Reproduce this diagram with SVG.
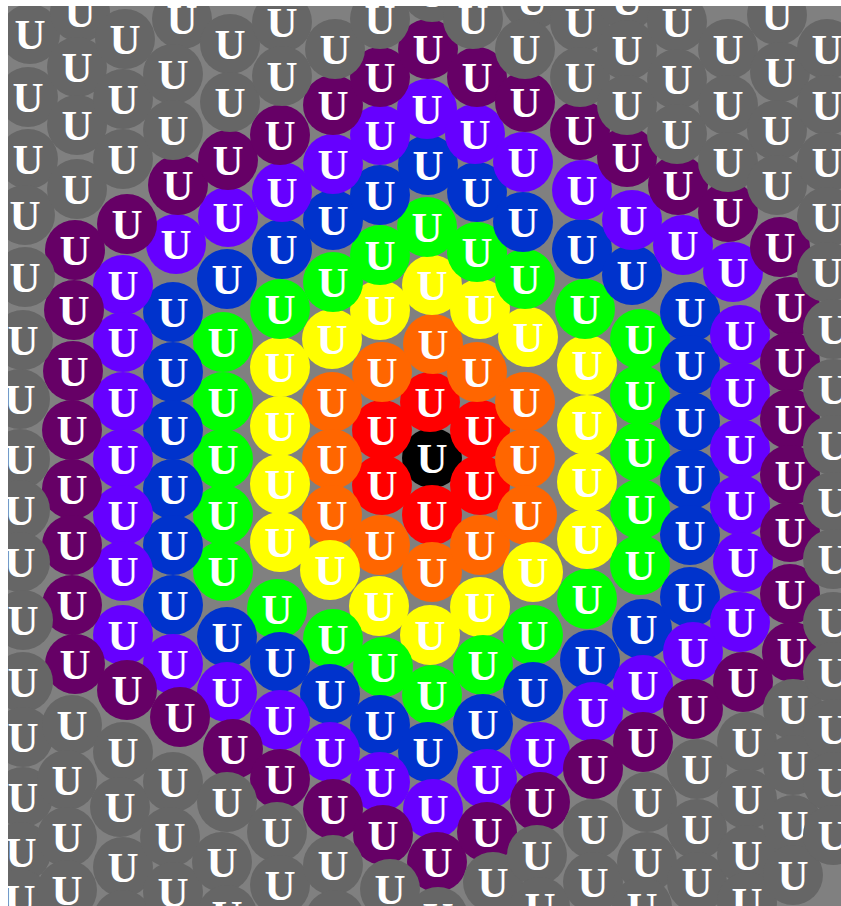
<svg xmlns="http://www.w3.org/2000/svg" width="841" height="906" viewBox="0 0 841 906">
<style>
text{font-family:"Liberation Serif","Times New Roman",serif;font-size:43px;font-weight:bold;fill:#fff;text-anchor:middle}
.k0 circle{fill:#000}.k1 circle{fill:#ff0000}.k2 circle{fill:#ff6600}.k3 circle{fill:#ffff00}
.k4 circle{fill:#00ff00}.k5 circle{fill:#0033cc}.k6 circle{fill:#6600ff}.k7 circle{fill:#660066}.kg circle{fill:#666666}
</style>
<defs><clipPath id="clip"><rect x="8" y="6" width="833" height="900"/></clipPath></defs>
<rect width="841" height="906" fill="#ffffff"/>
<g clip-path="url(#clip)">
<rect x="8" y="6" width="833" height="900" fill="#808080"/>
<g id="nodes" transform="translate(0 2)">
<g id="n0_0" class="k0" transform="translate(432 456)"><circle r="30"/><text y="15">U</text></g>
<g id="n-1_0" class="k1" transform="translate(382 428)"><circle r="30"/><text y="15">U</text></g>
<g id="n-1_1" class="k1" transform="translate(382 483)"><circle r="30"/><text y="15">U</text></g>
<g id="n0_-1" class="k1" transform="translate(430 400)"><circle r="30"/><text y="15">U</text></g>
<g id="n0_1" class="k1" transform="translate(432 513)"><circle r="30"/><text y="15">U</text></g>
<g id="n1_-1" class="k1" transform="translate(480 428)"><circle r="30"/><text y="15">U</text></g>
<g id="n1_0" class="k1" transform="translate(480 483)"><circle r="30"/><text y="15">U</text></g>
<g id="n-2_0" class="k2" transform="translate(332 400)"><circle r="30"/><text y="15">U</text></g>
<g id="n-2_1" class="k2" transform="translate(332 457)"><circle r="30"/><text y="15">U</text></g>
<g id="n-2_2" class="k2" transform="translate(332 513)"><circle r="30"/><text y="15">U</text></g>
<g id="n-1_-1" class="k2" transform="translate(382 370)"><circle r="30"/><text y="15">U</text></g>
<g id="n-1_2" class="k2" transform="translate(380 543)"><circle r="30"/><text y="15">U</text></g>
<g id="n0_-2" class="k2" transform="translate(433 342)"><circle r="30"/><text y="15">U</text></g>
<g id="n0_2" class="k2" transform="translate(432 570)"><circle r="30"/><text y="15">U</text></g>
<g id="n1_-2" class="k2" transform="translate(477 370)"><circle r="30"/><text y="15">U</text></g>
<g id="n1_1" class="k2" transform="translate(480 543)"><circle r="30"/><text y="15">U</text></g>
<g id="n2_-2" class="k2" transform="translate(525 400)"><circle r="30"/><text y="15">U</text></g>
<g id="n2_-1" class="k2" transform="translate(525 457)"><circle r="30"/><text y="15">U</text></g>
<g id="n2_0" class="k2" transform="translate(527 513)"><circle r="30"/><text y="15">U</text></g>
<g id="n-3_0" class="k3" transform="translate(280 365)"><circle r="30"/><text y="15">U</text></g>
<g id="n-3_1" class="k3" transform="translate(280 424)"><circle r="30"/><text y="15">U</text></g>
<g id="n-3_2" class="k3" transform="translate(280 482)"><circle r="30"/><text y="15">U</text></g>
<g id="n-3_3" class="k3" transform="translate(280 540)"><circle r="30"/><text y="15">U</text></g>
<g id="n-2_-1" class="k3" transform="translate(332 337)"><circle r="30"/><text y="15">U</text></g>
<g id="n-2_3" class="k3" transform="translate(330 568)"><circle r="30"/><text y="15">U</text></g>
<g id="n-1_-2" class="k3" transform="translate(380 308)"><circle r="30"/><text y="15">U</text></g>
<g id="n-1_3" class="k3" transform="translate(379 604)"><circle r="30"/><text y="15">U</text></g>
<g id="n0_-3" class="k3" transform="translate(432 283)"><circle r="30"/><text y="15">U</text></g>
<g id="n0_3" class="k3" transform="translate(430 633)"><circle r="30"/><text y="15">U</text></g>
<g id="n1_-3" class="k3" transform="translate(480 307)"><circle r="30"/><text y="15">U</text></g>
<g id="n1_2" class="k3" transform="translate(480 605)"><circle r="30"/><text y="15">U</text></g>
<g id="n2_-3" class="k3" transform="translate(528 335)"><circle r="30"/><text y="15">U</text></g>
<g id="n2_1" class="k3" transform="translate(533 570)"><circle r="30"/><text y="15">U</text></g>
<g id="n3_-3" class="k3" transform="translate(587 363)"><circle r="30"/><text y="15">U</text></g>
<g id="n3_-2" class="k3" transform="translate(587 423)"><circle r="30"/><text y="15">U</text></g>
<g id="n3_-1" class="k3" transform="translate(587 480)"><circle r="30"/><text y="15">U</text></g>
<g id="n3_0" class="k3" transform="translate(587 537)"><circle r="30"/><text y="15">U</text></g>
<g id="n-4_0" class="k4" transform="translate(223 340)"><circle r="30"/><text y="15">U</text></g>
<g id="n-4_1" class="k4" transform="translate(223 400)"><circle r="30"/><text y="15">U</text></g>
<g id="n-4_2" class="k4" transform="translate(223 457)"><circle r="30"/><text y="15">U</text></g>
<g id="n-4_3" class="k4" transform="translate(223 513)"><circle r="30"/><text y="15">U</text></g>
<g id="n-4_4" class="k4" transform="translate(223 569)"><circle r="30"/><text y="15">U</text></g>
<g id="n-3_-1" class="k4" transform="translate(280 307)"><circle r="30"/><text y="15">U</text></g>
<g id="n-3_4" class="k4" transform="translate(277 607)"><circle r="30"/><text y="15">U</text></g>
<g id="n-2_-2" class="k4" transform="translate(333 280)"><circle r="30"/><text y="15">U</text></g>
<g id="n-2_4" class="k4" transform="translate(333 637)"><circle r="30"/><text y="15">U</text></g>
<g id="n-1_-3" class="k4" transform="translate(380 253)"><circle r="30"/><text y="15">U</text></g>
<g id="n-1_4" class="k4" transform="translate(383 665)"><circle r="30"/><text y="15">U</text></g>
<g id="n0_-4" class="k4" transform="translate(427 225)"><circle r="30"/><text y="15">U</text></g>
<g id="n0_4" class="k4" transform="translate(432 693)"><circle r="30"/><text y="15">U</text></g>
<g id="n1_-4" class="k4" transform="translate(477 250)"><circle r="30"/><text y="15">U</text></g>
<g id="n1_3" class="k4" transform="translate(483 663)"><circle r="30"/><text y="15">U</text></g>
<g id="n2_-4" class="k4" transform="translate(525 277)"><circle r="30"/><text y="15">U</text></g>
<g id="n2_2" class="k4" transform="translate(533 633)"><circle r="30"/><text y="15">U</text></g>
<g id="n3_-4" class="k4" transform="translate(585 307)"><circle r="30"/><text y="15">U</text></g>
<g id="n3_1" class="k4" transform="translate(587 597)"><circle r="30"/><text y="15">U</text></g>
<g id="n4_-4" class="k4" transform="translate(640 337)"><circle r="30"/><text y="15">U</text></g>
<g id="n4_-3" class="k4" transform="translate(640 393)"><circle r="30"/><text y="15">U</text></g>
<g id="n4_-2" class="k4" transform="translate(640 450)"><circle r="30"/><text y="15">U</text></g>
<g id="n4_-1" class="k4" transform="translate(640 507)"><circle r="30"/><text y="15">U</text></g>
<g id="n4_0" class="k4" transform="translate(640 563)"><circle r="30"/><text y="15">U</text></g>
<g id="n-5_0" class="k5" transform="translate(173 310)"><circle r="30"/><text y="15">U</text></g>
<g id="n-5_1" class="k5" transform="translate(173 370)"><circle r="30"/><text y="15">U</text></g>
<g id="n-5_2" class="k5" transform="translate(173 428)"><circle r="30"/><text y="15">U</text></g>
<g id="n-5_3" class="k5" transform="translate(173 487)"><circle r="30"/><text y="15">U</text></g>
<g id="n-5_4" class="k5" transform="translate(173 543)"><circle r="30"/><text y="15">U</text></g>
<g id="n-5_5" class="k5" transform="translate(173 603)"><circle r="30"/><text y="15">U</text></g>
<g id="n-4_-1" class="k5" transform="translate(227 277)"><circle r="30"/><text y="15">U</text></g>
<g id="n-4_5" class="k5" transform="translate(227 635)"><circle r="30"/><text y="15">U</text></g>
<g id="n-3_-2" class="k5" transform="translate(282 247)"><circle r="30"/><text y="15">U</text></g>
<g id="n-3_5" class="k5" transform="translate(280 660)"><circle r="30"/><text y="15">U</text></g>
<g id="n-2_-3" class="k5" transform="translate(333 218)"><circle r="30"/><text y="15">U</text></g>
<g id="n-2_5" class="k5" transform="translate(330 692)"><circle r="30"/><text y="15">U</text></g>
<g id="n-1_-4" class="k5" transform="translate(380 193)"><circle r="30"/><text y="15">U</text></g>
<g id="n-1_5" class="k5" transform="translate(380 723)"><circle r="30"/><text y="15">U</text></g>
<g id="n0_-5" class="k5" transform="translate(428 163)"><circle r="30"/><text y="15">U</text></g>
<g id="n0_5" class="k5" transform="translate(428 750)"><circle r="30"/><text y="15">U</text></g>
<g id="n1_-5" class="k5" transform="translate(477 190)"><circle r="30"/><text y="15">U</text></g>
<g id="n1_4" class="k5" transform="translate(483 722)"><circle r="30"/><text y="15">U</text></g>
<g id="n2_-5" class="k5" transform="translate(523 220)"><circle r="30"/><text y="15">U</text></g>
<g id="n2_3" class="k5" transform="translate(533 690)"><circle r="30"/><text y="15">U</text></g>
<g id="n3_-5" class="k5" transform="translate(582 247)"><circle r="30"/><text y="15">U</text></g>
<g id="n3_2" class="k5" transform="translate(590 658)"><circle r="30"/><text y="15">U</text></g>
<g id="n4_-5" class="k5" transform="translate(632 273)"><circle r="30"/><text y="15">U</text></g>
<g id="n4_1" class="k5" transform="translate(642 627)"><circle r="30"/><text y="15">U</text></g>
<g id="n5_-5" class="k5" transform="translate(690 310)"><circle r="30"/><text y="15">U</text></g>
<g id="n5_-4" class="k5" transform="translate(690 363)"><circle r="30"/><text y="15">U</text></g>
<g id="n5_-3" class="k5" transform="translate(690 420)"><circle r="30"/><text y="15">U</text></g>
<g id="n5_-2" class="k5" transform="translate(690 477)"><circle r="30"/><text y="15">U</text></g>
<g id="n5_-1" class="k5" transform="translate(690 533)"><circle r="30"/><text y="15">U</text></g>
<g id="n5_0" class="k5" transform="translate(690 595)"><circle r="30"/><text y="15">U</text></g>
<g id="n-6_0" class="k6" transform="translate(123 283)"><circle r="30"/><text y="15">U</text></g>
<g id="n-6_1" class="k6" transform="translate(123 340)"><circle r="30"/><text y="15">U</text></g>
<g id="n-6_2" class="k6" transform="translate(123 400)"><circle r="30"/><text y="15">U</text></g>
<g id="n-6_3" class="k6" transform="translate(123 457)"><circle r="30"/><text y="15">U</text></g>
<g id="n-6_4" class="k6" transform="translate(123 513)"><circle r="30"/><text y="15">U</text></g>
<g id="n-6_5" class="k6" transform="translate(123 569)"><circle r="30"/><text y="15">U</text></g>
<g id="n-6_6" class="k6" transform="translate(123 633)"><circle r="30"/><text y="15">U</text></g>
<g id="n-5_-1" class="k6" transform="translate(176 242)"><circle r="30"/><text y="15">U</text></g>
<g id="n-5_6" class="k6" transform="translate(173 662)"><circle r="30"/><text y="15">U</text></g>
<g id="n-4_-2" class="k6" transform="translate(228 215)"><circle r="30"/><text y="15">U</text></g>
<g id="n-4_6" class="k6" transform="translate(227 690)"><circle r="30"/><text y="15">U</text></g>
<g id="n-3_-3" class="k6" transform="translate(282 190)"><circle r="30"/><text y="15">U</text></g>
<g id="n-3_6" class="k6" transform="translate(280 718)"><circle r="30"/><text y="15">U</text></g>
<g id="n-2_-4" class="k6" transform="translate(333 162)"><circle r="30"/><text y="15">U</text></g>
<g id="n-2_6" class="k6" transform="translate(330 750)"><circle r="30"/><text y="15">U</text></g>
<g id="n-1_-5" class="k6" transform="translate(380 133)"><circle r="30"/><text y="15">U</text></g>
<g id="n-1_6" class="k6" transform="translate(380 780)"><circle r="30"/><text y="15">U</text></g>
<g id="n0_-6" class="k6" transform="translate(427 107)"><circle r="30"/><text y="15">U</text></g>
<g id="n0_6" class="k6" transform="translate(433 807)"><circle r="30"/><text y="15">U</text></g>
<g id="n1_-6" class="k6" transform="translate(475 132)"><circle r="30"/><text y="15">U</text></g>
<g id="n1_5" class="k6" transform="translate(487 777)"><circle r="30"/><text y="15">U</text></g>
<g id="n2_-6" class="k6" transform="translate(523 160)"><circle r="30"/><text y="15">U</text></g>
<g id="n2_4" class="k6" transform="translate(540 750)"><circle r="30"/><text y="15">U</text></g>
<g id="n3_-6" class="k6" transform="translate(582 188)"><circle r="30"/><text y="15">U</text></g>
<g id="n3_3" class="k6" transform="translate(593 710)"><circle r="30"/><text y="15">U</text></g>
<g id="n4_-6" class="k6" transform="translate(632 218)"><circle r="30"/><text y="15">U</text></g>
<g id="n4_2" class="k6" transform="translate(643 683)"><circle r="30"/><text y="15">U</text></g>
<g id="n5_-6" class="k6" transform="translate(683 243)"><circle r="30"/><text y="15">U</text></g>
<g id="n5_1" class="k6" transform="translate(693 650)"><circle r="30"/><text y="15">U</text></g>
<g id="n6_-6" class="k6" transform="translate(733 270)"><circle r="30"/><text y="15">U</text></g>
<g id="n6_-5" class="k6" transform="translate(740 333)"><circle r="30"/><text y="15">U</text></g>
<g id="n6_-4" class="k6" transform="translate(740 390)"><circle r="30"/><text y="15">U</text></g>
<g id="n6_-3" class="k6" transform="translate(740 447)"><circle r="30"/><text y="15">U</text></g>
<g id="n6_-2" class="k6" transform="translate(740 503)"><circle r="30"/><text y="15">U</text></g>
<g id="n6_-1" class="k6" transform="translate(743 560)"><circle r="30"/><text y="15">U</text></g>
<g id="n6_0" class="k6" transform="translate(740 620)"><circle r="30"/><text y="15">U</text></g>
<g id="n-7_0" class="k7" transform="translate(75 248)"><circle r="30"/><text y="15">U</text></g>
<g id="n-7_1" class="k7" transform="translate(74 308)"><circle r="30"/><text y="15">U</text></g>
<g id="n-7_2" class="k7" transform="translate(73 369)"><circle r="30"/><text y="15">U</text></g>
<g id="n-7_3" class="k7" transform="translate(72 428)"><circle r="30"/><text y="15">U</text></g>
<g id="n-7_4" class="k7" transform="translate(72 487)"><circle r="30"/><text y="15">U</text></g>
<g id="n-7_5" class="k7" transform="translate(72 543)"><circle r="30"/><text y="15">U</text></g>
<g id="n-7_6" class="k7" transform="translate(72 603)"><circle r="30"/><text y="15">U</text></g>
<g id="n-7_7" class="k7" transform="translate(75 662)"><circle r="30"/><text y="15">U</text></g>
<g id="n-6_-1" class="k7" transform="translate(127 222)"><circle r="30"/><text y="15">U</text></g>
<g id="n-6_7" class="k7" transform="translate(127 688)"><circle r="30"/><text y="15">U</text></g>
<g id="n-5_-2" class="k7" transform="translate(178 183)"><circle r="30"/><text y="15">U</text></g>
<g id="n-5_7" class="k7" transform="translate(180 715)"><circle r="30"/><text y="15">U</text></g>
<g id="n-4_-3" class="k7" transform="translate(228 158)"><circle r="30"/><text y="15">U</text></g>
<g id="n-4_7" class="k7" transform="translate(233 747)"><circle r="30"/><text y="15">U</text></g>
<g id="n-3_-4" class="k7" transform="translate(280 133)"><circle r="30"/><text y="15">U</text></g>
<g id="n-3_7" class="k7" transform="translate(280 777)"><circle r="30"/><text y="15">U</text></g>
<g id="n-2_-5" class="k7" transform="translate(333 103)"><circle r="30"/><text y="15">U</text></g>
<g id="n-2_7" class="k7" transform="translate(333 807)"><circle r="30"/><text y="15">U</text></g>
<g id="n-1_-6" class="k7" transform="translate(380 75)"><circle r="30"/><text y="15">U</text></g>
<g id="n-1_7" class="k7" transform="translate(383 833)"><circle r="30"/><text y="15">U</text></g>
<g id="n0_-7" class="k7" transform="translate(428 47)"><circle r="30"/><text y="15">U</text></g>
<g id="n0_7" class="k7" transform="translate(437 860)"><circle r="30"/><text y="15">U</text></g>
<g id="n1_-7" class="k7" transform="translate(477 75)"><circle r="30"/><text y="15">U</text></g>
<g id="n1_6" class="k7" transform="translate(487 830)"><circle r="30"/><text y="15">U</text></g>
<g id="n2_-7" class="k7" transform="translate(525 100)"><circle r="30"/><text y="15">U</text></g>
<g id="n2_5" class="k7" transform="translate(540 800)"><circle r="30"/><text y="15">U</text></g>
<g id="n3_-7" class="k7" transform="translate(580 128)"><circle r="30"/><text y="15">U</text></g>
<g id="n3_4" class="k7" transform="translate(593 767)"><circle r="30"/><text y="15">U</text></g>
<g id="n4_-7" class="k7" transform="translate(627 155)"><circle r="30"/><text y="15">U</text></g>
<g id="n4_3" class="k7" transform="translate(643 740)"><circle r="30"/><text y="15">U</text></g>
<g id="n5_-7" class="k7" transform="translate(678 183)"><circle r="30"/><text y="15">U</text></g>
<g id="n5_2" class="k7" transform="translate(693 707)"><circle r="30"/><text y="15">U</text></g>
<g id="n6_-7" class="k7" transform="translate(728 210)"><circle r="30"/><text y="15">U</text></g>
<g id="n6_1" class="k7" transform="translate(743 680)"><circle r="30"/><text y="15">U</text></g>
<g id="n7_-7" class="k7" transform="translate(780 245)"><circle r="30"/><text y="15">U</text></g>
<g id="n7_-6" class="k7" transform="translate(790 305)"><circle r="30"/><text y="15">U</text></g>
<g id="n7_-5" class="k7" transform="translate(790 360)"><circle r="30"/><text y="15">U</text></g>
<g id="n7_-4" class="k7" transform="translate(790 417)"><circle r="30"/><text y="15">U</text></g>
<g id="n7_-3" class="k7" transform="translate(790 473)"><circle r="30"/><text y="15">U</text></g>
<g id="n7_-2" class="k7" transform="translate(790 530)"><circle r="30"/><text y="15">U</text></g>
<g id="n7_-1" class="k7" transform="translate(790 592)"><circle r="30"/><text y="15">U</text></g>
<g id="n7_0" class="k7" transform="translate(792 650)"><circle r="30"/><text y="15">U</text></g>
<g id="n-8_-3" class="kg" transform="translate(30 32)"><circle r="30"/><text y="15">U</text></g>
<g id="n-8_-2" class="kg" transform="translate(28 95)"><circle r="30"/><text y="15">U</text></g>
<g id="n-8_-1" class="kg" transform="translate(28 157)"><circle r="30"/><text y="15">U</text></g>
<g id="n-8_0" class="kg" transform="translate(25 213)"><circle r="30"/><text y="15">U</text></g>
<g id="n-8_1" class="kg" transform="translate(25 275)"><circle r="30"/><text y="15">U</text></g>
<g id="n-8_2" class="kg" transform="translate(23 338)"><circle r="30"/><text y="15">U</text></g>
<g id="n-8_3" class="kg" transform="translate(20 397)"><circle r="30"/><text y="15">U</text></g>
<g id="n-8_4" class="kg" transform="translate(20 457)"><circle r="30"/><text y="15">U</text></g>
<g id="n-8_5" class="kg" transform="translate(20 508)"><circle r="30"/><text y="15">U</text></g>
<g id="n-8_6" class="kg" transform="translate(20 560)"><circle r="30"/><text y="15">U</text></g>
<g id="n-8_7" class="kg" transform="translate(23 618)"><circle r="30"/><text y="15">U</text></g>
<g id="n-8_8" class="kg" transform="translate(23 680)"><circle r="30"/><text y="15">U</text></g>
<g id="n-8_9" class="kg" transform="translate(23 735)"><circle r="30"/><text y="15">U</text></g>
<g id="n-8_10" class="kg" transform="translate(23 795)"><circle r="30"/><text y="15">U</text></g>
<g id="n-8_11" class="kg" transform="translate(21 850)"><circle r="30"/><text y="15">U</text></g>
<g id="n-8_12" class="kg" transform="translate(20 897)"><circle r="30"/><text y="15">U</text></g>
<g id="n-7_-4" class="kg" transform="translate(80 10)"><circle r="30"/><text y="15">U</text></g>
<g id="n-7_-3" class="kg" transform="translate(77 65)"><circle r="30"/><text y="15">U</text></g>
<g id="n-7_-2" class="kg" transform="translate(77 123)"><circle r="30"/><text y="15">U</text></g>
<g id="n-7_-1" class="kg" transform="translate(77 187)"><circle r="30"/><text y="15">U</text></g>
<g id="n-7_8" class="kg" transform="translate(72 723)"><circle r="30"/><text y="15">U</text></g>
<g id="n-7_9" class="kg" transform="translate(67 778)"><circle r="30"/><text y="15">U</text></g>
<g id="n-7_10" class="kg" transform="translate(67 835)"><circle r="30"/><text y="15">U</text></g>
<g id="n-7_11" class="kg" transform="translate(67 888)"><circle r="30"/><text y="15">U</text></g>
<g id="n-6_-4" class="kg" transform="translate(125 37)"><circle r="30"/><text y="15">U</text></g>
<g id="n-6_-3" class="kg" transform="translate(123 97)"><circle r="30"/><text y="15">U</text></g>
<g id="n-6_-2" class="kg" transform="translate(123 157)"><circle r="30"/><text y="15">U</text></g>
<g id="n-6_8" class="kg" transform="translate(123 750)"><circle r="30"/><text y="15">U</text></g>
<g id="n-6_9" class="kg" transform="translate(120 805)"><circle r="30"/><text y="15">U</text></g>
<g id="n-6_10" class="kg" transform="translate(123 865)"><circle r="30"/><text y="15">U</text></g>
<g id="n-6_11" class="kg" transform="translate(123 918)"><circle r="30"/><text y="15">U</text></g>
<g id="n-5_-5" class="kg" transform="translate(182 17)"><circle r="30"/><text y="15">U</text></g>
<g id="n-5_-4" class="kg" transform="translate(173 72)"><circle r="30"/><text y="15">U</text></g>
<g id="n-5_-3" class="kg" transform="translate(173 128)"><circle r="30"/><text y="15">U</text></g>
<g id="n-5_8" class="kg" transform="translate(173 780)"><circle r="30"/><text y="15">U</text></g>
<g id="n-5_9" class="kg" transform="translate(170 835)"><circle r="30"/><text y="15">U</text></g>
<g id="n-5_10" class="kg" transform="translate(173 890)"><circle r="30"/><text y="15">U</text></g>
<g id="n-4_-5" class="kg" transform="translate(230 42)"><circle r="30"/><text y="15">U</text></g>
<g id="n-4_-4" class="kg" transform="translate(230 100)"><circle r="30"/><text y="15">U</text></g>
<g id="n-4_8" class="kg" transform="translate(227 800)"><circle r="30"/><text y="15">U</text></g>
<g id="n-4_9" class="kg" transform="translate(222 860)"><circle r="30"/><text y="15">U</text></g>
<g id="n-4_10" class="kg" transform="translate(227 913)"><circle r="30"/><text y="15">U</text></g>
<g id="n-3_-6" class="kg" transform="translate(282 20)"><circle r="30"/><text y="15">U</text></g>
<g id="n-3_-5" class="kg" transform="translate(282 74)"><circle r="30"/><text y="15">U</text></g>
<g id="n-3_8" class="kg" transform="translate(277 830)"><circle r="30"/><text y="15">U</text></g>
<g id="n-3_9" class="kg" transform="translate(280 883)"><circle r="30"/><text y="15">U</text></g>
<g id="n-2_-6" class="kg" transform="translate(335 47)"><circle r="30"/><text y="15">U</text></g>
<g id="n-2_8" class="kg" transform="translate(333 863)"><circle r="30"/><text y="15">U</text></g>
<g id="n-2_9" class="kg" transform="translate(335 918)"><circle r="30"/><text y="15">U</text></g>
<g id="n-1_-7" class="kg" transform="translate(380 17)"><circle r="30"/><text y="15">U</text></g>
<g id="n-1_8" class="kg" transform="translate(390 887)"><circle r="30"/><text y="15">U</text></g>
<g id="n0_-8" class="kg" transform="translate(432 -10)"><circle r="30"/><text y="15">U</text></g>
<g id="n0_8" class="kg" transform="translate(438 915)"><circle r="30"/><text y="15">U</text></g>
<g id="n1_-8" class="kg" transform="translate(473 17)"><circle r="30"/><text y="15">U</text></g>
<g id="n1_7" class="kg" transform="translate(493 880)"><circle r="30"/><text y="15">U</text></g>
<g id="n2_-9" class="kg" transform="translate(532 -2)"><circle r="30"/><text y="15">U</text></g>
<g id="n2_-8" class="kg" transform="translate(525 47)"><circle r="30"/><text y="15">U</text></g>
<g id="n2_6" class="kg" transform="translate(537 853)"><circle r="30"/><text y="15">U</text></g>
<g id="n2_7" class="kg" transform="translate(540 905)"><circle r="30"/><text y="15">U</text></g>
<g id="n3_-9" class="kg" transform="translate(580 20)"><circle r="30"/><text y="15">U</text></g>
<g id="n3_-8" class="kg" transform="translate(580 75)"><circle r="30"/><text y="15">U</text></g>
<g id="n3_5" class="kg" transform="translate(593 827)"><circle r="30"/><text y="15">U</text></g>
<g id="n3_6" class="kg" transform="translate(593 880)"><circle r="30"/><text y="15">U</text></g>
<g id="n4_-10" class="kg" transform="translate(627 -2)"><circle r="30"/><text y="15">U</text></g>
<g id="n4_-9" class="kg" transform="translate(627 48)"><circle r="30"/><text y="15">U</text></g>
<g id="n4_-8" class="kg" transform="translate(627 103)"><circle r="30"/><text y="15">U</text></g>
<g id="n4_4" class="kg" transform="translate(647 800)"><circle r="30"/><text y="15">U</text></g>
<g id="n4_5" class="kg" transform="translate(647 860)"><circle r="30"/><text y="15">U</text></g>
<g id="n4_6" class="kg" transform="translate(642 905)"><circle r="30"/><text y="15">U</text></g>
<g id="n5_-10" class="kg" transform="translate(677 20)"><circle r="30"/><text y="15">U</text></g>
<g id="n5_-9" class="kg" transform="translate(677 77)"><circle r="30"/><text y="15">U</text></g>
<g id="n5_-8" class="kg" transform="translate(677 132)"><circle r="30"/><text y="15">U</text></g>
<g id="n5_3" class="kg" transform="translate(697 767)"><circle r="30"/><text y="15">U</text></g>
<g id="n5_4" class="kg" transform="translate(697 827)"><circle r="30"/><text y="15">U</text></g>
<g id="n5_5" class="kg" transform="translate(697 880)"><circle r="30"/><text y="15">U</text></g>
<g id="n6_-10" class="kg" transform="translate(728 47)"><circle r="30"/><text y="15">U</text></g>
<g id="n6_-9" class="kg" transform="translate(728 103)"><circle r="30"/><text y="15">U</text></g>
<g id="n6_-8" class="kg" transform="translate(728 160)"><circle r="30"/><text y="15">U</text></g>
<g id="n6_2" class="kg" transform="translate(747 740)"><circle r="30"/><text y="15">U</text></g>
<g id="n6_3" class="kg" transform="translate(747 797)"><circle r="30"/><text y="15">U</text></g>
<g id="n6_4" class="kg" transform="translate(747 853)"><circle r="30"/><text y="15">U</text></g>
<g id="n6_5" class="kg" transform="translate(747 900)"><circle r="30"/><text y="15">U</text></g>
<g id="n7_-11" class="kg" transform="translate(777 13)"><circle r="30"/><text y="15">U</text></g>
<g id="n7_-10" class="kg" transform="translate(780 70)"><circle r="30"/><text y="15">U</text></g>
<g id="n7_-9" class="kg" transform="translate(777 128)"><circle r="30"/><text y="15">U</text></g>
<g id="n7_-8" class="kg" transform="translate(777 183)"><circle r="30"/><text y="15">U</text></g>
<g id="n7_1" class="kg" transform="translate(793 707)"><circle r="30"/><text y="15">U</text></g>
<g id="n7_2" class="kg" transform="translate(793 763)"><circle r="30"/><text y="15">U</text></g>
<g id="n7_3" class="kg" transform="translate(793 823)"><circle r="30"/><text y="15">U</text></g>
<g id="n7_4" class="kg" transform="translate(793 873)"><circle r="30"/><text y="15">U</text></g>
<g id="n8_-11" class="kg" transform="translate(827 47)"><circle r="30"/><text y="15">U</text></g>
<g id="n8_-10" class="kg" transform="translate(827 103)"><circle r="30"/><text y="15">U</text></g>
<g id="n8_-9" class="kg" transform="translate(827 160)"><circle r="30"/><text y="15">U</text></g>
<g id="n8_-8" class="kg" transform="translate(827 215)"><circle r="30"/><text y="15">U</text></g>
<g id="n8_-7" class="kg" transform="translate(827 270)"><circle r="30"/><text y="15">U</text></g>
<g id="n8_-6" class="kg" transform="translate(833 327)"><circle r="30"/><text y="15">U</text></g>
<g id="n8_-5" class="kg" transform="translate(833 387)"><circle r="30"/><text y="15">U</text></g>
<g id="n8_-4" class="kg" transform="translate(833 443)"><circle r="30"/><text y="15">U</text></g>
<g id="n8_-3" class="kg" transform="translate(833 500)"><circle r="30"/><text y="15">U</text></g>
<g id="n8_-2" class="kg" transform="translate(833 557)"><circle r="30"/><text y="15">U</text></g>
<g id="n8_-1" class="kg" transform="translate(833 620)"><circle r="30"/><text y="15">U</text></g>
<g id="n8_0" class="kg" transform="translate(833 670)"><circle r="30"/><text y="15">U</text></g>
<g id="n8_1" class="kg" transform="translate(833 727)"><circle r="30"/><text y="15">U</text></g>
<g id="n8_2" class="kg" transform="translate(833 780)"><circle r="30"/><text y="15">U</text></g>
<g id="n8_3" class="kg" transform="translate(833 833)"><circle r="30"/><text y="15">U</text></g>
</g>
</g>
</svg>
